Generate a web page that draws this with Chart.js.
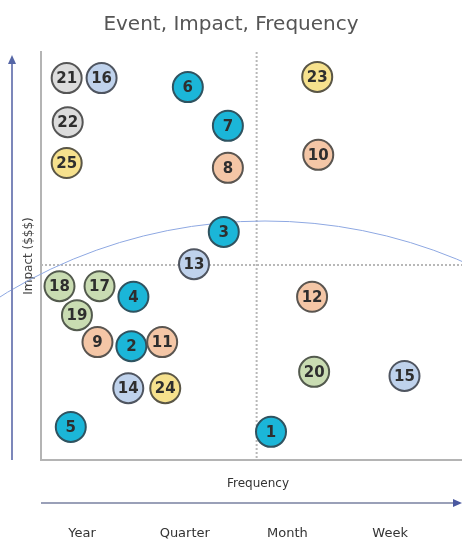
<!DOCTYPE html>
<html>
<head>
<meta charset="utf-8">
<script src="https://cdn.jsdelivr.net/npm/chart.js@4.4.1/dist/chart.umd.min.js"></script>
<style>
  body { margin: 0; background: #fff; }
  #wrap { width: 462px; height: 542px; }
</style>
</head>
<body>
<div id="wrap"><canvas id="risk-chart"></canvas></div>
<script>
// events
const eventIds   = [1, 2, 3, 4, 5, 6, 7, 8, 9, 10, 11, 12, 13, 14, 15, 16, 17, 18, 19, 20, 21, 22, 23, 24, 25];
const frequency  = [1.84, 0.48, 1.38, 0.50, -0.11, 1.03, 1.42, 1.42, 0.15, 2.30, 0.78, 2.24, 1.09, 0.45, 3.14, 0.19, 0.17, -0.22, -0.05, 2.26, -0.15, -0.14, 2.29, 0.81, -0.15];
const impact     = [0.69, 2.79, 5.59, 4.00, 0.81, 9.14, 8.19, 7.16, 2.89, 7.48, 2.89, 4.00, 4.80, 1.76, 2.06, 9.36, 4.26, 4.26, 3.55, 2.16, 9.36, 8.28, 9.39, 1.76, 7.28];
const eventGroup = ['A', 'A', 'A', 'A', 'A', 'A', 'A', 'B', 'B', 'B', 'B', 'B', 'C', 'C', 'C', 'C', 'D', 'D', 'D', 'D', 'E', 'E', 'F', 'F', 'F'];

const freqTicks  = [0, 1, 2, 3];
const freqLabels = ['Year', 'Quarter', 'Month', 'Week'];

// quadrant split lines
const freqSplit = 1.7;
const impactSplit = 4.78;

const groupFill = { A: '#1bb6d8', B: '#f4c6a6', C: '#bfd2ec', D: '#c9dcb2', E: '#dcdcdc', F: '#f6e18d' };
const groupEdge = { A: '#2f5360', B: '#5a5550', C: '#4f5560', D: '#535a4e', E: '#555555', F: '#5a5646' };

const points = eventIds.map((id, i) => ({ x: frequency[i], y: impact[i] }));

const decorations = {
    id: 'decorations',
    beforeDatasetsDraw(chart) {
        const ctx = chart.ctx;
        const area = chart.chartArea;
        const xs = chart.scales.x, ys = chart.scales.y;
        ctx.save();
        // dotted quadrant lines
        ctx.strokeStyle = '#b8b8b8';
        ctx.lineWidth = 2;
        ctx.setLineDash([2, 2]);
        const vx = xs.getPixelForValue(freqSplit);
        const hy = ys.getPixelForValue(impactSplit);
        ctx.beginPath();
        ctx.moveTo(vx, area.top);
        ctx.lineTo(vx, area.bottom);
        ctx.moveTo(area.left, hy);
        ctx.lineTo(area.right, hy);
        ctx.stroke();
        ctx.setLineDash([]);
        // thin arc
        ctx.strokeStyle = '#8ea8e2';
        ctx.lineWidth = 1;
        ctx.beginPath();
        ctx.arc(265, 722, 501, Math.PI * 1.0, Math.PI * 2.0);
        ctx.stroke();
        ctx.restore();
    },
    afterDatasetsDraw(chart) {
        const ctx = chart.ctx;
        const area = chart.chartArea;
        ctx.save();
        // numbers inside bubbles
        ctx.font = 'bold 15px "DejaVu Sans"';
        ctx.fillStyle = '#2e2e2e';
        ctx.textAlign = 'center';
        ctx.textBaseline = 'middle';
        chart.getDatasetMeta(0).data.forEach((el, i) => {
            ctx.fillText(String(eventIds[i]), el.x, el.y + 1);
        });
        // left arrow
        ctx.strokeStyle = '#7c87ba';
        ctx.lineWidth = 2;
        ctx.beginPath();
        ctx.moveTo(12, area.bottom);
        ctx.lineTo(12, 62);
        ctx.stroke();
        ctx.fillStyle = '#5566a6';
        ctx.beginPath();
        ctx.moveTo(12, 55);
        ctx.lineTo(8, 64);
        ctx.lineTo(16, 64);
        ctx.closePath();
        ctx.fill();
        // bottom arrow
        ctx.strokeStyle = '#9aa0b8';
        ctx.beginPath();
        ctx.moveTo(area.left, 503);
        ctx.lineTo(455, 503);
        ctx.stroke();
        ctx.fillStyle = '#4a58a0';
        ctx.beginPath();
        ctx.moveTo(462, 503);
        ctx.lineTo(453, 499);
        ctx.lineTo(453, 507);
        ctx.closePath();
        ctx.fill();
        // axis name
        ctx.font = '12px "DejaVu Sans"';
        ctx.fillStyle = '#333';
        ctx.fillText('Frequency', 258, 484);
        ctx.restore();
    }
};

const ctx = document.getElementById('risk-chart').getContext('2d');
new Chart(ctx, {
    type: 'scatter',
    data: {
        datasets: [{
            data: points,
            backgroundColor: eventGroup.map(g => groupFill[g]),
            borderColor: eventGroup.map(g => groupEdge[g]),
            borderWidth: 2,
            pointRadius: 15,
            pointHoverRadius: 15
        }]
    },
    options: {
        responsive: true,
        maintainAspectRatio: false,
        animation: false,
        layout: { autoPadding: false, padding: 0 },
        plugins: {
            legend: { display: false },
            tooltip: { enabled: false },
            title: {
                display: true,
                text: 'Event, Impact, Frequency',
                color: '#555',
                font: { family: 'DejaVu Sans', size: 20, weight: 'normal' },
                padding: { top: 13, bottom: 15 }
            }
        },
        scales: {
            x: {
                type: 'linear',
                min: -0.4,
                max: 3.7,
                afterBuildTicks: scale => { scale.ticks = freqTicks.map(v => ({ value: v })); },
                afterFit: scale => { scale.height = 82; scale.paddingLeft = 0; scale.paddingRight = 0; },
                grid: { display: false, drawTicks: false },
                border: { display: true, color: '#b4b4b4', width: 2 },
                ticks: {
                    padding: 66,
                    color: '#333',
                    font: { family: 'DejaVu Sans', size: 13 },
                    callback: (v, i) => freqLabels[i]
                }
            },
            y: {
                min: 0,
                max: 10,
                afterFit: scale => { scale.width = 41; },
                grid: { display: false, drawTicks: false },
                border: { display: true, color: '#b4b4b4', width: 2 },
                ticks: { display: false },
                title: {
                    display: true,
                    text: 'Impact ($$$)',
                    color: '#444',
                    font: { family: 'DejaVu Sans', size: 12 },
                    padding: { top: 22, bottom: 0 }
                }
            }
        }
    },
    plugins: [decorations]
});
</script>
</body>
</html>
